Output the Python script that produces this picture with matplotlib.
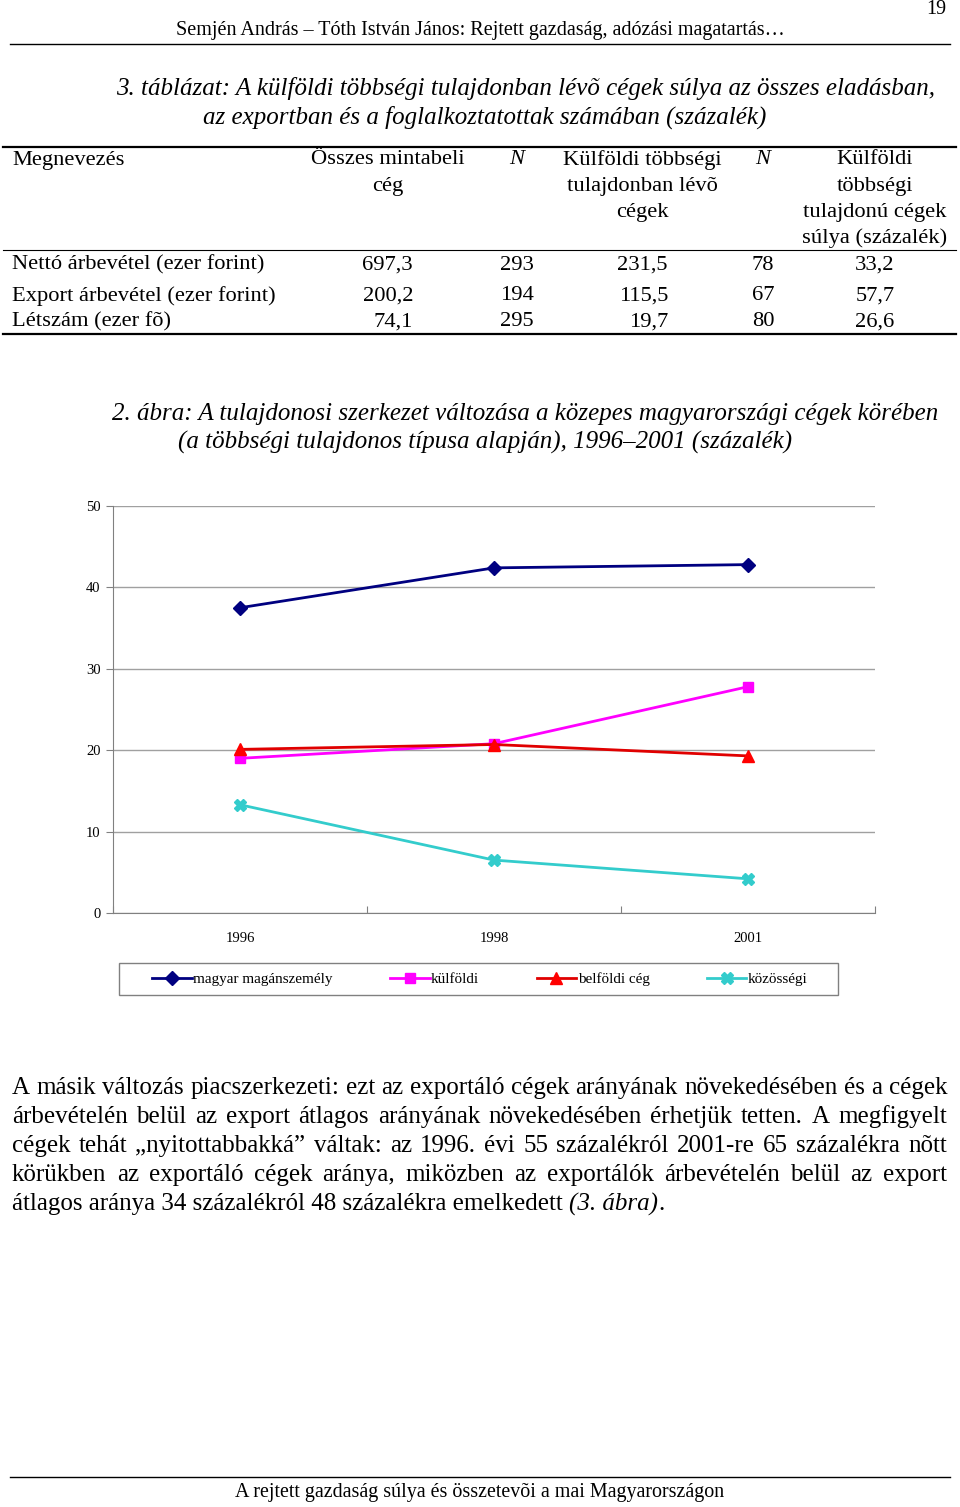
import matplotlib.pyplot as plt
from matplotlib.lines import Line2D
from matplotlib.patches import Rectangle

W, H = 960, 1507
SERIF = ["Liberation Serif", "DejaVu Serif"]
plt.rcParams["font.family"] = SERIF

# chart data
years = ["1996", "1998", "2001"]
magyar = [37.5, 42.4, 42.8]
kulfoldi = [19.0, 20.8, 27.8]
belfoldi = [20.1, 20.7, 19.3]
kozossegi = [13.3, 6.5, 4.2]
series_names = ["magyar magánszemély", "külföldi", "belföldi cég", "közösségi"]

# table data
table_rows = ["Nettó árbevétel (ezer forint)", "Export árbevétel (ezer forint)", "Létszám (ezer fõ)"]
osszes = ["697,3", "200,2", "74,1"]
n_osszes = ["293", "194", "295"]
kulf_cegek = ["231,5", "115,5", "19,7"]
n_kulf = ["78", "67", "80"]
suly = ["33,2", "57,7", "26,6"]

para_lines = [
    "A másik változás piacszerkezeti: ezt az exportáló cégek arányának növekedésében és a cégek",
    "árbevételén belül az export átlagos arányának növekedésében érhetjük tetten. A megfigyelt",
    "cégek tehát „nyitottabbakká” váltak: az 1996. évi 55 százalékról 2001-re 65 százalékra nõtt",
    "körükben az exportáló cégek aránya, miközben az exportálók árbevételén belül az export",
]
para_last = "átlagos aránya 34 százalékról 48 százalékra emelkedett "


def fx(x):
    return x / W


def fy(y):
    return 1 - y / H


fig = plt.figure(figsize=(W / 100, H / 100), dpi=100)


def txt(x, y, s, size, ha="left", style="normal", **kw):
    return fig.text(fx(x), fy(y), s, fontsize=size, ha=ha, va="center",
                    style=style, **kw)


def hline(y, x0, x1, lw=1.0):
    fig.add_artist(Line2D([fx(x0), fx(x1)], [fy(y), fy(y)], color="black", lw=lw))


# page header
txt(936, 9, "19", 14.5, ha="center")
txt(480, 30, "Semjén András – Tóth István János: Rejtett gazdaság, adózási magatartás…", 14.5, ha="center")
hline(44, 10, 950, 1.0)

# table title
TT = 18
txt(116, 88, "3. táblázat: A külföldi többségi tulajdonban lévõ cégek súlya az összes eladásban,", TT, style="italic")
txt(203, 117, "az exportban és a foglalkoztatottak számában (százalék)", TT, style="italic")

# table
TS = 16.2
hline(147, 3, 956, 1.6)
hline(250, 3, 956, 0.8)
hline(334, 3, 956, 1.6)
txt(12, 160, "Megnevezés", TS)
for i, s in enumerate(["Összes mintabeli", "cég"]):
    txt(388, 160 + 26 * i, s, TS, ha="center")
txt(517, 160, "N", TS, ha="center", style="italic")
for i, s in enumerate(["Külföldi többségi", "tulajdonban lévõ", "cégek"]):
    txt(642, 160 + 26 * i, s, TS, ha="center")
txt(763, 160, "N", TS, ha="center", style="italic")
for i, s in enumerate(["Külföldi", "többségi", "tulajdonú cégek", "súlya (százalék)"]):
    txt(875, 160 + 26 * i, s, TS, ha="center")

row_y = [265, 296, 322]
for i, y in enumerate(row_y):
    txt(12, y, table_rows[i], TS)
    txt(413, y, osszes[i], TS, ha="right")
    txt(517, y, n_osszes[i], TS, ha="center")
    txt(668, y, kulf_cegek[i], TS, ha="right")
    txt(763, y, n_kulf[i], TS, ha="center")
    txt(875, y, suly[i], TS, ha="center")

# figure caption
txt(112, 414, "2. ábra: A tulajdonosi szerkezet változása a közepes magyarországi cégek körében", TT, style="italic")
txt(178, 442, "(a többségi tulajdonos típusa alapján), 1996–2001 (százalék)", TT, style="italic")

# chart
ax = fig.add_axes([fx(113), fy(913), (875 - 113) / W, (913 - 506) / H])
xs = [0.5, 1.5, 2.5]
ax.plot(xs, magyar, color="#000080", marker="D", ms=7, lw=2, label=series_names[0])
ax.plot(xs, kulfoldi, color="#FF00FF", marker="s", ms=7, lw=2, label=series_names[1])
ax.plot(xs, belfoldi, color="#E00000", marker="^", ms=8, mfc="red", mec="red", lw=2, label=series_names[2])
ax.plot(xs, kozossegi, color="#33CCCC", marker="X", ms=8, lw=2, label=series_names[3])

ax.set_xlim(0, 3)
ax.set_ylim(0, 50)
ax.set_yticks(range(0, 51, 10))
ax.set_xticks([0, 1, 2, 3])
ax.set_xticklabels([])
ax.set_xticks(xs, minor=True)
ax.set_xticklabels(years, minor=True)
ax.tick_params(axis="x", which="minor", length=0, pad=14, labelsize=10.5)
ax.tick_params(axis="x", which="major", length=5, direction="in", color="#808080")
ax.tick_params(axis="y", length=5, direction="out", color="#808080", labelsize=10.5, pad=4)
ax.grid(axis="y", color="#A0A0A0", lw=1)
ax.set_axisbelow(True)
for side in ["top", "right"]:
    ax.spines[side].set_visible(False)
for side in ["left", "bottom"]:
    ax.spines[side].set_color("#808080")

fig.add_artist(Rectangle((fx(119), fy(995)), (838 - 119) / W, (995 - 963) / H,
                         transform=fig.transFigure, fill=False,
                         edgecolor="#808080", lw=1))
leg = fig.legend(loc="center", bbox_to_anchor=(fx(480), fy(979)),
                 ncol=4, fontsize=10.9, handlelength=2.6, handletextpad=0.1,
                 columnspacing=3.8, frameon=False, borderaxespad=0, borderpad=0)

# body paragraph, justified
PS = 18
renderer = fig.canvas.get_renderer()


def width_of(s, style="normal"):
    t = fig.text(0, 0, s, fontsize=PS, style=style)
    w = t.get_window_extent(renderer).width
    t.remove()
    return w


x_left, x_right = 12, 947
for i, line in enumerate(para_lines):
    y = 1088 + 29 * i
    words = line.split(" ")
    widths = [width_of(w) for w in words]
    gap = (x_right - x_left - sum(widths)) / (len(words) - 1)
    x = x_left
    for w, wd in zip(words, widths):
        txt(x, y, w, PS)
        x += wd + gap

y_last = 1088 + 29 * 4
txt(x_left, y_last, para_last, PS)
x_it = x_left + width_of(para_last.rstrip()) + width_of("a b") - width_of("ab")
txt(x_it, y_last, "(3. ábra)", PS, style="italic")
txt(x_it + width_of("(3. ábra)", "italic"), y_last, ".", PS)

# footer
hline(1477, 10, 950, 1.0)
txt(480, 1493, "A rejtett gazdaság súlya és összetevõi a mai Magyarországon", 14.4, ha="center")

fig.savefig("out.png", dpi=100)
